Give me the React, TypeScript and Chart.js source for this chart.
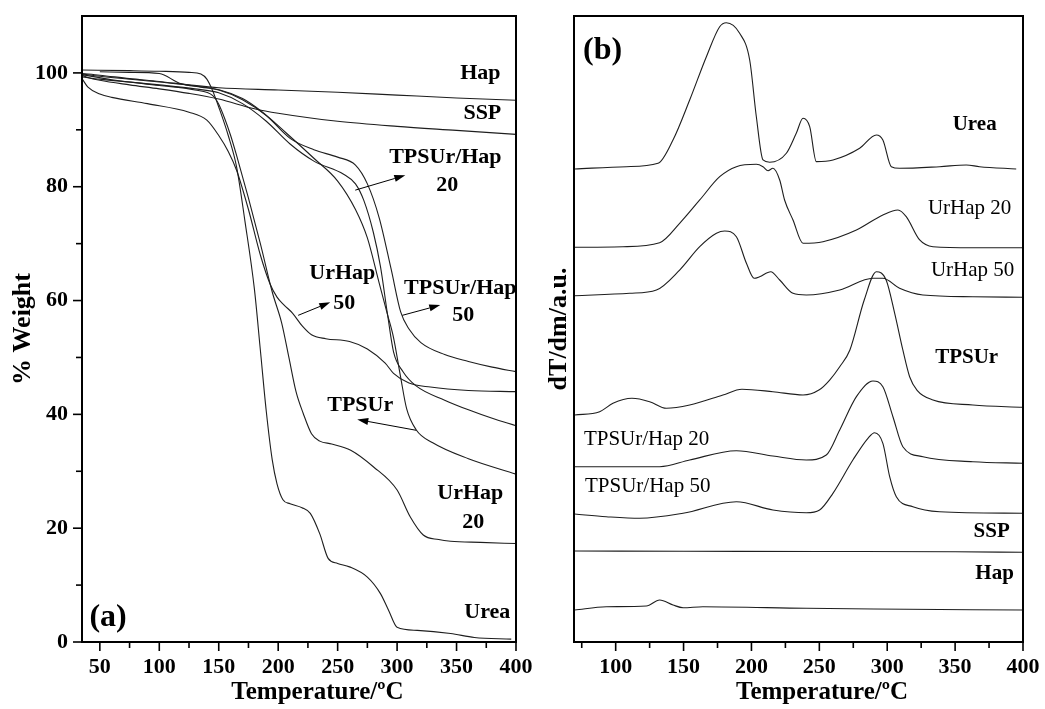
import React, { useEffect, useRef } from 'react';
import { Chart, registerables } from 'chart.js';

Chart.register(...registerables);

const FONT = '"Liberation Serif", "Times New Roman", serif';

// ---------- Panel (a): TGA, % Weight vs Temperature ----------
const tgaXTicks = [50, 100, 150, 200, 250, 300, 350, 400];
const tgaXMinor = [75, 125, 175, 225, 275, 325, 375];
const tgaYTicks = [0, 20, 40, 60, 80, 100];
const tgaYMinor = [10, 30, 50, 70, 90];

const hapT = [35, 50, 75, 100, 125, 150, 200, 250, 300, 350, 400];
const hapW = [99.9, 99.6, 99.0, 98.5, 97.9, 97.4, 97.0, 96.6, 96.1, 95.6, 95.2];

const sspT = [35, 40, 50, 75, 100, 125, 150, 180, 200, 250, 300, 350, 400];
const sspW = [99.6, 99.2, 98.7, 97.9, 97.2, 96.4, 95.4, 93.7, 92.9, 91.5, 90.6, 89.9, 89.2];

const ureaT = [35, 75, 100, 125, 135, 140, 145, 150, 158, 165, 172, 180, 185, 190, 195, 199, 204, 210, 220, 227, 235, 242, 250, 260, 275, 286, 293, 300, 317, 345, 365, 396];
const ureaW = [100.5, 100.4, 100.3, 100.1, 99.8, 98.9, 96.8, 94.0, 89.0, 83.5, 74.0, 62.0, 51.3, 40.5, 32.0, 27.8, 25.0, 24.3, 23.6, 22.6, 19.0, 14.7, 13.8, 13.2, 11.4, 8.5, 5.5, 2.6, 2.05, 1.5, 0.8, 0.5];

const urHap50T = [35, 40, 50, 60, 90, 125, 140, 150, 158, 165, 175, 185, 193, 199, 205, 212, 220, 228, 240, 260, 275, 290, 297, 310, 328, 360, 400];
const urHap50W = [99.0, 97.5, 96.3, 95.7, 94.6, 93.1, 91.7, 89.0, 86.2, 82.9, 76.0, 68.0, 63.0, 60.6, 59.2, 57.8, 55.6, 54.0, 53.3, 52.8, 51.5, 49.0, 47.2, 45.5, 44.8, 44.2, 44.0];

const urHap20T = [35, 60, 100, 130, 145, 150, 155, 160, 165, 175, 185, 195, 203, 209, 215, 221, 228, 235, 245, 261, 280, 300, 311, 322, 335, 345, 370, 400];
const urHap20W = [99.7, 98.8, 97.8, 97.0, 96.0, 94.5, 92.0, 89.0, 85.5, 78.0, 70.0, 61.5, 56.0, 50.0, 44.0, 40.2, 36.6, 35.3, 34.8, 33.7, 30.8, 26.7, 22.0, 18.8, 18.0, 17.7, 17.5, 17.3];

const tpsHap50T = [35, 50, 100, 130, 150, 170, 190, 210, 230, 250, 265, 275, 285, 295, 303, 310, 320, 340, 360, 380, 400];
const tpsHap50W = [99.8, 99.4, 98.4, 97.7, 97.0, 95.3, 92.5, 88.5, 86.5, 85.2, 83.8, 80.5, 74.5, 65.5, 58.0, 55.0, 52.6, 50.5, 49.3, 48.3, 47.5];

const tpsHap20T = [35, 50, 100, 130, 150, 170, 190, 210, 230, 255, 265, 272, 280, 286, 292, 297, 305, 316, 340, 360, 380, 400];
const tpsHap20W = [99.3, 98.9, 97.9, 97.2, 96.5, 94.6, 91.5, 87.5, 84.5, 82.2, 80.5, 77.6, 72.0, 66.0, 57.5, 51.0, 47.5, 45.0, 42.5, 40.8, 39.3, 38.0];

const tpsT = [50, 75, 100, 117, 135, 151, 170, 185, 207, 230, 250, 265, 275, 285, 292, 297, 303, 308, 316, 330, 360, 400];
const tpsW = [100.2, 100.1, 99.9, 98.2, 97.5, 97.0, 95.5, 93.4, 89.4, 85.0, 81.0, 76.0, 71.0, 63.0, 57.5, 53.5, 46.5, 41.0, 37.3, 35.0, 32.2, 29.5];

const tgaLabels = [
  { text: 'Hap', x: 370, y: 99.9 },
  { text: 'SSP', x: 371.7, y: 92.9 },
  { text: 'TPSUr/Hap', x: 340.6, y: 85.2 },
  { text: '20', x: 342.2, y: 80.2 },
  { text: 'UrHap', x: 253.9, y: 64.8 },
  { text: '50', x: 255.5, y: 59.5 },
  { text: 'TPSUr/Hap', x: 353.2, y: 62.2 },
  { text: '50', x: 355.7, y: 57.4 },
  { text: 'TPSUr', x: 269, y: 41.6 },
  { text: 'UrHap', x: 361.6, y: 26.1 },
  { text: '20', x: 364.1, y: 21 },
  { text: 'Urea', x: 375.9, y: 5.2 },
  { text: '(a)', x: 56.9, y: 4.2, size: 32 },
];

// arrows: [fromT, fromW, toT, toW]
const tgaArrows = [
  [264.8, 79.4, 306.9, 82.0],
  [216.8, 57.4, 243.8, 59.7],
  [304.4, 57.4, 336.3, 59.2],
  [316.1, 37.2, 266.5, 39.1],
];

// ---------- Panel (b): DTG, dT/dm (a.u.) vs Temperature ----------
const dtgXTicks = [100, 150, 200, 250, 300, 350, 400];
const dtgXMinor = [75, 125, 175, 225, 275, 325, 375];

const dUreaT = [69.8, 107.9, 131.2, 142.2, 154.5, 166.8, 176.6, 181.5, 191.3, 198.7, 203.6, 208.5, 213.4, 225.7, 233, 238, 242.9, 247.8, 260.1, 279.7, 292, 296.8, 303, 309.1, 338.6, 358.2, 368, 395];
const dUreaV = [75.56, 75.93, 76.47, 80.19, 86.58, 93.5, 98.29, 98.93, 97.24, 92.97, 83.91, 77.0, 76.63, 78.07, 81.26, 83.66, 82.32, 76.73, 77.0, 78.87, 80.99, 80.19, 75.93, 75.67, 75.93, 76.2, 75.93, 75.56];

const dUrHap20T = [69.8, 105.4, 132.4, 147.1, 161.9, 176.6, 188.9, 203.6, 208.5, 212.2, 215.8, 220.8, 224.4, 230.6, 238, 252.7, 277.3, 296.8, 307.9, 314, 323.9, 333.7, 363.1, 400];
const dUrHap20V = [63.05, 63.15, 63.79, 66.88, 70.61, 74.33, 75.93, 76.31, 75.93, 75.29, 75.67, 73.8, 70.61, 67.41, 63.69, 63.95, 65.81, 68.21, 69.01, 67.94, 64.22, 63.15, 62.99, 62.99];

const dUrHap50T = [69.8, 110.3, 130, 147.1, 161.9, 174.2, 180.3, 188.9, 196.3, 202, 206, 214.2, 220.8, 230.6, 240.4, 265, 289.5, 296.8, 309.1, 326.3, 363.1, 400];
const dUrHap50V = [55.32, 55.7, 56.23, 59.42, 63.15, 65.29, 65.65, 64.74, 60.5, 58.1, 58.35, 59.15, 57.83, 55.7, 55.43, 56.23, 58.1, 58.1, 56.5, 55.43, 55.16, 55.06];

const dTpsT = [69.8, 88.2, 98, 112, 125, 137.3, 154.5, 179, 193, 215.8, 238, 250, 257.6, 265, 272.5, 283, 292, 299.2, 305.5, 311.5, 316.5, 322, 333.7, 363.1, 400];
const dTpsV = [36.26, 36.79, 38.13, 38.93, 38.39, 37.33, 37.86, 39.46, 40.37, 39.98, 39.46, 40.3, 41.85, 43.98, 46.65, 54.6, 59.15, 57.83, 52.5, 46.65, 42.38, 40.2, 38.66, 37.86, 37.49];

const dTpsHap20T = [69.8, 132.4, 154.5, 188.9, 215.8, 240.4, 255.1, 265, 277.3, 289.5, 296.8, 304.2, 311.5, 326.3, 363.1, 400];
const dTpsHap20V = [28.0, 28.0, 29.07, 30.56, 29.71, 29.07, 29.87, 33.87, 39.19, 41.69, 40.78, 35.99, 31.2, 29.6, 28.8, 28.55];

const dTpsHap50T = [69.8, 93.1, 117.7, 149.6, 188.9, 215.8, 240.4, 250.2, 260, 274.7, 285.8, 290.7, 296.8, 301.8, 306.7, 318.9, 338.6, 400];
const dTpsHap50V = [20.45, 20.02, 19.76, 20.56, 22.41, 21.09, 20.65, 21.09, 23.75, 29.07, 32.54, 33.43, 31.74, 26.41, 23.21, 21.61, 20.81, 20.56];

const dSspT = [69.8, 150, 250, 350, 400];
const dSspV = [14.54, 14.5, 14.46, 14.41, 14.33];

const dHapT = [69.8, 93.1, 122.6, 132.4, 142.2, 149.6, 164.3, 240.4, 290, 400];
const dHapV = [5.11, 5.64, 5.75, 6.71, 5.91, 5.48, 5.64, 5.38, 5.27, 5.11];

const dtgLabels = [
  { text: '(b)', x: 90.4, y: 94.4, size: 32 },
  { text: 'Urea', x: 364.4, y: 82.7 },
  { text: 'UrHap 20', x: 360.7, y: 69.3, normal: true },
  { text: 'UrHap 50', x: 362.9, y: 59.4, normal: true },
  { text: 'TPSUr', x: 358.5, y: 45.4 },
  { text: 'TPSUr/Hap 20', x: 122.8, y: 32.3, normal: true },
  { text: 'TPSUr/Hap 50', x: 123.6, y: 24.8, normal: true },
  { text: 'SSP', x: 376.9, y: 17.6 },
  { text: 'Hap', x: 379.1, y: 11.0 },
];

type Lbl = { text: string; x: number; y: number; size?: number; normal?: boolean };

function series(label: string, xs: number[], ys: number[]) {
  return {
    label,
    data: xs.map((x, i) => ({ x, y: ys[i] })),
    borderColor: '#1e1e1e',
    borderWidth: 1.1,
    pointRadius: 0,
    fill: false,
    cubicInterpolationMode: 'monotone' as const,
  };
}

function decorPlugin(cfg: {
  xMajor: number[]; xMinor: number[]; yMajor: number[]; yMinor: number[];
  labels: Lbl[]; labelSize: number; arrows: number[][]; xTitle: string; xTitleAt: number;
}) {
  return {
    id: 'decor',
    afterDraw(chart: any) {
      const { ctx, chartArea: a } = chart;
      const xs = chart.scales.x;
      const ys = chart.scales.y;
      ctx.save();
      ctx.strokeStyle = '#000';
      ctx.fillStyle = '#000';
      ctx.lineWidth = 2;
      ctx.strokeRect(a.left, a.top, a.right - a.left, a.bottom - a.top);
      ctx.lineWidth = 1.6;
      const tick = (x1: number, y1: number, x2: number, y2: number) => {
        ctx.beginPath(); ctx.moveTo(x1, y1); ctx.lineTo(x2, y2); ctx.stroke();
      };
      cfg.xMajor.forEach((v) => { const p = xs.getPixelForValue(v); tick(p, a.bottom, p, a.bottom + 9); });
      cfg.xMinor.forEach((v) => { const p = xs.getPixelForValue(v); tick(p, a.bottom, p, a.bottom + 6); });
      cfg.yMajor.forEach((v) => { const p = ys.getPixelForValue(v); tick(a.left, p, a.left - 9, p); });
      cfg.yMinor.forEach((v) => { const p = ys.getPixelForValue(v); tick(a.left, p, a.left - 6, p); });

      ctx.textAlign = 'center';
      ctx.textBaseline = 'middle';
      cfg.labels.forEach((l) => {
        const size = l.size || cfg.labelSize;
        ctx.font = `${l.normal ? '' : 'bold '}${size}px ${FONT}`;
        ctx.fillText(l.text, xs.getPixelForValue(l.x), ys.getPixelForValue(l.y));
      });

      ctx.lineWidth = 1;
      cfg.arrows.forEach(([t1, w1, t2, w2]) => {
        const x1 = xs.getPixelForValue(t1), y1 = ys.getPixelForValue(w1);
        const x2 = xs.getPixelForValue(t2), y2 = ys.getPixelForValue(w2);
        const ang = Math.atan2(y2 - y1, x2 - x1);
        const L = 11, W = 3.5;
        const bx = x2 - L * Math.cos(ang), by = y2 - L * Math.sin(ang);
        ctx.beginPath(); ctx.moveTo(x1, y1); ctx.lineTo(bx, by); ctx.stroke();
        ctx.beginPath();
        ctx.moveTo(x2, y2);
        ctx.lineTo(bx - W * Math.sin(ang), by + W * Math.cos(ang));
        ctx.lineTo(bx + W * Math.sin(ang), by - W * Math.cos(ang));
        ctx.closePath(); ctx.fill();
      });

      ctx.font = `bold 25px ${FONT}`;
      ctx.fillText(cfg.xTitle, xs.getPixelForValue(cfg.xTitleAt), chart.height - 16);
      ctx.restore();
    },
  };
}

const zeroPad = (s: any) => {
  s.paddingLeft = 0; s.paddingRight = 0; s.paddingTop = 0; s.paddingBottom = 0;
};

function makeConfig(opts: {
  datasets: any[]; xMin: number; xMax: number; yMin: number; yMax: number;
  xTicks: number[]; yTicks: number[]; yAxisWidth: number; padRight: number;
  yTitle: string; yTitlePad: number; showYTicks: boolean; plugin: any;
}) {
  return {
    type: 'line' as const,
    data: { datasets: opts.datasets },
    options: {
      animation: false as const,
      responsive: false,
      devicePixelRatio: 1,
      layout: { padding: { left: 0, right: opts.padRight, top: 16, bottom: 0 } },
      plugins: { legend: { display: false }, tooltip: { enabled: false }, title: { display: false } },
      scales: {
        x: {
          type: 'linear' as const,
          min: opts.xMin,
          max: opts.xMax,
          afterBuildTicks: (s: any) => { s.ticks = opts.xTicks.map((v) => ({ value: v })); },
          afterFit: (s: any) => { s.height = 67; zeroPad(s); },
          grid: { display: true, drawOnChartArea: false, drawTicks: false },
          border: { display: true, width: 2, color: '#000' },
          ticks: {
            autoSkip: false, maxRotation: 0, padding: 12, color: '#000',
            font: { family: FONT, size: 22, weight: 'bold' as const },
          },
        },
        y: {
          type: 'linear' as const,
          min: opts.yMin,
          max: opts.yMax,
          afterBuildTicks: (s: any) => { s.ticks = opts.yTicks.map((v) => ({ value: v })); },
          afterFit: (s: any) => { s.width = opts.yAxisWidth; zeroPad(s); },
          grid: { display: true, drawOnChartArea: false, drawTicks: false },
          border: { display: true, width: 2, color: '#000' },
          ticks: {
            display: opts.showYTicks, autoSkip: false, padding: 14, color: '#000',
            font: { family: FONT, size: 22, weight: 'bold' as const },
          },
          title: {
            display: true, text: opts.yTitle, color: '#000',
            font: { family: FONT, size: 26, weight: 'bold' as const, lineHeight: 1.2 },
            padding: { top: opts.yTitlePad, bottom: 0 },
          },
        },
      },
    },
    plugins: [opts.plugin],
  };
}

export default function App() {
  const leftRef = useRef<HTMLCanvasElement>(null);
  const rightRef = useRef<HTMLCanvasElement>(null);

  useEffect(() => {
    const left = new Chart(leftRef.current as HTMLCanvasElement, makeConfig({
      datasets: [
        series('Hap', hapT, hapW),
        series('SSP', sspT, sspW),
        series('Urea', ureaT, ureaW),
        series('UrHap 50', urHap50T, urHap50W),
        series('UrHap 20', urHap20T, urHap20W),
        series('TPSUr/Hap 50', tpsHap50T, tpsHap50W),
        series('TPSUr/Hap 20', tpsHap20T, tpsHap20W),
        series('TPSUr', tpsT, tpsW),
      ],
      xMin: 35, xMax: 400, yMin: 0, yMax: 110,
      xTicks: tgaXTicks, yTicks: tgaYTicks,
      yAxisWidth: 82, padRight: 24,
      yTitle: '% Weight', yTitlePad: 8, showYTicks: true,
      plugin: decorPlugin({
        xMajor: tgaXTicks, xMinor: tgaXMinor, yMajor: tgaYTicks, yMinor: tgaYMinor,
        labels: tgaLabels, labelSize: 22, arrows: tgaArrows,
        xTitle: 'Temperature/ºC', xTitleAt: 233,
      }),
    }) as any);

    const right = new Chart(rightRef.current as HTMLCanvasElement, makeConfig({
      datasets: [
        series('Urea', dUreaT, dUreaV),
        series('UrHap 20', dUrHap20T, dUrHap20V),
        series('UrHap 50', dUrHap50T, dUrHap50V),
        series('TPSUr', dTpsT, dTpsV),
        series('TPSUr/Hap 20', dTpsHap20T, dTpsHap20V),
        series('TPSUr/Hap 50', dTpsHap50T, dTpsHap50V),
        series('SSP', dSspT, dSspV),
        series('Hap', dHapT, dHapV),
      ],
      xMin: 69.3, xMax: 400, yMin: 0, yMax: 100,
      xTicks: dtgXTicks, yTicks: [],
      yAxisWidth: 34, padRight: 22,
      yTitle: 'dT/dm/a.u.', yTitlePad: 4, showYTicks: false,
      plugin: decorPlugin({
        xMajor: dtgXTicks, xMinor: dtgXMinor, yMajor: [], yMinor: [],
        labels: dtgLabels, labelSize: 21, arrows: [],
        xTitle: 'Temperature/ºC', xTitleAt: 252,
      }),
    }) as any);

    return () => { left.destroy(); right.destroy(); };
  }, []);

  return (
    <div style={{ position: 'absolute', left: 0, top: 0, width: 1045, height: 709, background: '#fff' }}>
      <canvas ref={leftRef} width={540} height={709} style={{ position: 'absolute', left: 0, top: 0, display: 'block' }} />
      <canvas ref={rightRef} width={505} height={709} style={{ position: 'absolute', left: 540, top: 0, display: 'block' }} />
    </div>
  );
}
